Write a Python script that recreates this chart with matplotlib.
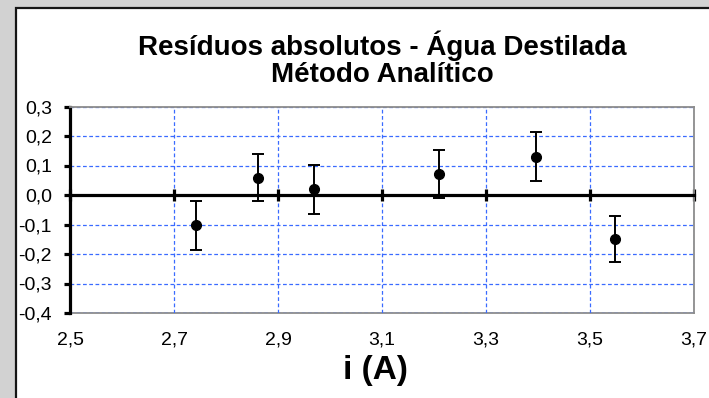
import matplotlib
matplotlib.use("Agg")
import matplotlib.pyplot as plt
from matplotlib.patches import Rectangle

# Residuals of the analytic method (distilled water) vs. current
current = [2.742, 2.862, 2.970, 3.210, 3.397, 3.548]
residual = [-0.102, 0.059, 0.019, 0.071, 0.130, -0.149]
uncertainty = [0.083, 0.079, 0.083, 0.080, 0.083, 0.079]

x_ticks = [2.5, 2.7, 2.9, 3.1, 3.3, 3.5, 3.7]
x_labels = ["2,5", "2,7", "2,9", "3,1", "3,3", "3,5", "3,7"]
y_ticks = [-0.4, -0.3, -0.2, -0.1, 0.0, 0.1, 0.2, 0.3]
y_labels = ["-0,4", "-0,3", "-0,2", "-0,1", "0,0", "0,1", "0,2", "0,3"]

title = "Resíduos absolutos - Água Destilada\nMétodo Analítico"
x_label = "i (A)"

plt.rcParams["font.family"] = ["Liberation Sans", "DejaVu Sans"]

W, H = 709, 398
fig = plt.figure(figsize=(W / 100, H / 100), dpi=100)
fig.patch.set_facecolor("#d2d2d2")

# white chart panel with dark edge
fig.add_artist(Rectangle((16 / W, -0.05), 1.05, 1 - 8 / H + 0.05,
                         transform=fig.transFigure, facecolor="white",
                         edgecolor="#151515", linewidth=1.6, zorder=0))

ax = fig.add_axes([70 / W, 1 - 313 / H, (694 - 70) / W, (313 - 106.5) / H])
ax.set_xlim(x_ticks[0], x_ticks[-1])
ax.set_ylim(y_ticks[0], y_ticks[-1])
ax.set_facecolor("white")

ax.grid(True, color="#3a6bff", linestyle=(0, (3, 2)), linewidth=0.9)

# axis line through zero with crossing tick marks
ax.spines["bottom"].set_position(("data", 0))
ax.spines["bottom"].set_color("black")
ax.spines["bottom"].set_linewidth(2.3)
ax.spines["left"].set_color("black")
ax.spines["left"].set_linewidth(2.3)
for s in ("top", "right"):
    ax.spines[s].set_color("#8c8c8c")
    ax.spines[s].set_linewidth(1.3)

ax.set_xticks(x_ticks)
ax.tick_params(axis="x", direction="inout", length=8, width=2.3,
               labelbottom=False, color="black")
ax.set_yticks(y_ticks, y_labels)
ax.tick_params(axis="y", direction="out", length=4, width=2.3,
               labelsize=14, pad=9, color="black")

# lower frame edge carrying the category labels
sec = ax.secondary_xaxis("bottom")
sec.spines["bottom"].set_color("#8c8c8c")
sec.spines["bottom"].set_linewidth(1.3)
sec.set_xticks(x_ticks, x_labels)
sec.tick_params(axis="x", length=0, pad=13, labelsize=14)

ax.set_xlabel(x_label, fontsize=24, fontweight="bold")
ax.xaxis.set_label_coords(0.489, -0.205)

ax.errorbar(current, residual, yerr=uncertainty, fmt="o", color="black",
            markersize=7, capsize=4, elinewidth=1.4, capthick=1.4,
            zorder=5, clip_on=False)

fig.text(382 / W, 1 - 59 / H, title, ha="center", va="center",
         fontsize=20, fontweight="bold", linespacing=1.05)

fig.savefig("out.png", dpi=100, facecolor=fig.get_facecolor())
